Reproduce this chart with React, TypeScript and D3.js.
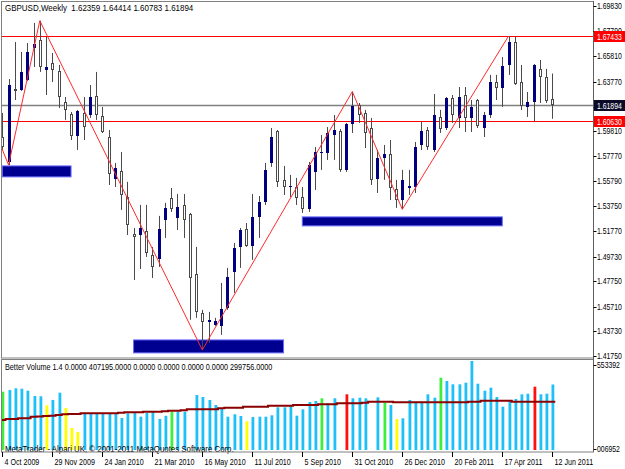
import React, { useEffect } from "react";
import * as d3 from "d3";

// Weekly GBPUSD bars, first bar = week of 4 Oct 2009
const opens = [1.5932,1.5732,1.6317,1.6313,1.6389,1.6646,1.6710,1.6470,1.6526,1.6462,1.6213,1.6117,1.5940,1.6125,1.6109,1.6261,1.6101,1.5932,1.5596,1.5660,1.5451,1.5154,1.5146,1.5178,1.4986,1.4954,1.5267,1.5443,1.5283,1.5387,1.5315,1.4834,1.4521,1.4449,1.4425,1.4417,1.4561,1.4850,1.5050,1.5194,1.5058,1.5291,1.5411,1.5724,1.5980,1.5588,1.5531,1.5531,1.5451,1.5355,1.5652,1.5804,1.5804,1.5948,1.5980,1.5668,1.6037,1.6189,1.6125,1.6004,1.5596,1.5764,1.5796,1.5515,1.5427,1.5523,1.5531,1.5868,1.5988,1.5828,1.6093,1.6004,1.6245,1.6085,1.6269,1.6085,1.6229,1.6004,1.6109,1.6373,1.6325,1.6510,1.6694,1.6373,1.6173,1.6213,1.6478,1.6414,1.62359];
const highs = [1.6125,1.6397,1.6694,1.6614,1.6686,1.6847,1.6865,1.6734,1.6606,1.6510,1.6253,1.6133,1.6149,1.6253,1.6349,1.6454,1.6173,1.5988,1.5724,1.5812,1.5572,1.5202,1.5387,1.5387,1.5050,1.5299,1.5403,1.5523,1.5475,1.5475,1.5323,1.5050,1.4545,1.4529,1.4481,1.4761,1.4882,1.5082,1.5202,1.5242,1.5475,1.5459,1.5724,1.6004,1.5988,1.5700,1.5628,1.5604,1.5531,1.5732,1.5852,1.5948,1.6012,1.6109,1.5996,1.6045,1.6296,1.6205,1.6149,1.6085,1.5828,1.5868,1.5908,1.5588,1.5668,1.5668,1.5892,1.6053,1.6012,1.6277,1.6149,1.6253,1.6269,1.6333,1.6333,1.6229,1.6237,1.6133,1.6430,1.6430,1.6574,1.6742,1.6738,1.6510,1.6293,1.6518,1.6550,1.6478,1.64414];
const lows = [1.5828,1.5707,1.6229,1.6301,1.6381,1.6494,1.6454,1.6269,1.6373,1.6165,1.6069,1.5908,1.5828,1.5908,1.6085,1.6069,1.5964,1.5547,1.5531,1.5347,1.5146,1.4785,1.4873,1.4970,1.4801,1.4890,1.5122,1.5331,1.5186,1.5122,1.4465,1.4481,1.4223,1.4280,1.4417,1.4344,1.4545,1.4681,1.4882,1.5050,1.4946,1.5122,1.5387,1.5692,1.5531,1.5467,1.5451,1.5387,1.5323,1.5331,1.5507,1.5668,1.5748,1.5748,1.5652,1.5652,1.5964,1.6045,1.5844,1.5547,1.5483,1.5588,1.5427,1.5363,1.5352,1.5467,1.5483,1.5828,1.5828,1.5812,1.5964,1.5988,1.6045,1.6004,1.5972,1.5972,1.6004,1.5932,1.6085,1.6229,1.6173,1.6430,1.6349,1.6149,1.6093,1.6053,1.6205,1.6205,1.60783];
const closes = [1.5852,1.6349,1.6301,1.6454,1.6614,1.6678,1.6494,1.6494,1.6470,1.6253,1.6149,1.5940,1.6141,1.6012,1.6253,1.6109,1.5972,1.5636,1.5684,1.5467,1.5227,1.5130,1.5202,1.5002,1.4890,1.5194,1.5363,1.5355,1.5371,1.5267,1.4801,1.4529,1.4449,1.4465,1.4457,1.4553,1.4809,1.5042,1.5186,1.5058,1.5291,1.5411,1.5668,1.5932,1.5572,1.5531,1.5539,1.5443,1.5355,1.5708,1.5812,1.5812,1.5964,1.5988,1.5668,1.6037,1.6181,1.6109,1.5964,1.5588,1.5764,1.5796,1.5523,1.5427,1.5588,1.5539,1.5852,1.5980,1.5852,1.6109,1.5996,1.6245,1.6109,1.6253,1.6085,1.6173,1.6020,1.6109,1.6373,1.6325,1.6502,1.6694,1.6357,1.6181,1.6213,1.6510,1.6414,1.6221,1.61894];

const volumes = [362500,373100,383650,381000,368730,335770,334000,277940,310900,356290,261160,136800,111920,228200,229500,227400,228900,226800,229100,198980,228200,231930,207060,230070,236280,192760,212660,236280,238150,238150,420000,342000,329550,310900,279810,256800,207060,221980,211410,178460,205190,207060,207060,215760,265510,265510,273590,213280,253070,298460,304680,321470,290380,321470,450000,346340,321470,325200,321470,470000,327690,294110,279810,192760,197110,310900,300330,300330,346340,325200,449560,429040,408520,408520,418470,553392,412250,368730,387380,329550,269240,304680,317120,346340,350070,393600,346340,350070,407195];
const volumeTypes = ["g","b","b","b","b","b","b","y","b","b","y","y","y","b","b","b","b","b","b","b","b","b","b","b","b","b","b","g","b","b","w","b","b","b","b","b","b","b","b","y","b","b","b","b","b","b","b","b","b","b","b","g","b","b","w","r","b","b","b","w","b","g","b","y","b","b","b","b","b","b","g","b","b","b","b","b","b","b","b","b","b","b","b","b","b","r","b","b","b"];
const volumeAvg = [186500,192800,192800,197100,197100,207000,209000,211400,213300,217600,222000,223800,223800,228200,228200,228200,228200,228200,228200,231900,234400,234400,234400,238100,238100,238100,240600,244400,244400,246800,253000,253000,253000,253000,253000,259300,263000,263000,263000,269200,269200,269200,269200,275500,275500,275500,275500,279800,279800,279800,279800,284200,284200,284200,290400,290400,290400,290400,294100,300300,300300,300300,300300,296600,296600,296600,296600,296600,296600,296600,296600,296600,296600,296600,296600,300300,300300,306500,306500,306500,306500,306500,299756,299756,299756,299756,299756,299756,299756];

const zigzagIndex = [-1, 1, 6, 32, 56, 64, 81];
const zigzagPrice = [1.5956, 1.5707, 1.6865, 1.4224, 1.6296, 1.5352, 1.6742];

const zoneStart = [0, 21, 48];
const zoneEnd = [11, 45, 80];
const zoneTop = [1.5700, 1.4304, 1.5291];
const zoneBottom = [1.5612, 1.4200, 1.5219];

const redLevels = [1.67433, 1.60630];
const bidPrice = 1.61894;

const priceTicks = [1.6983, 1.6779, 1.6581, 1.6377, 1.6175, 1.5981, 1.5777, 1.5579, 1.5375, 1.5177, 1.4973, 1.4775, 1.4571, 1.4373, 1.4175];
const dateLabels = ["4 Oct 2009","29 Nov 2009","24 Jan 2010","21 Mar 2010","16 May 2010","11 Jul 2010","5 Sep 2010","31 Oct 2010","26 Dec 2010","20 Feb 2011","17 Apr 2011","12 Jun 2011"];
const dateLabelIndex = [0, 8, 16, 24, 32, 40, 48, 56, 64, 72, 80, 88];

const volColor: Record<string, string> = { b: "#1ec0f8", g: "#3ef03e", y: "#ffff00", r: "#ff1010", w: "#ffffff" };

const FONT = "'Liberation Sans', Arial, sans-serif";

function Label(props: { x: number; y: number; sx: number; fill?: string; children: React.ReactNode }) {
  return (
    <text
      transform={`translate(${props.x},${props.y}) scale(${props.sx},1)`}
      fontSize={8.5}
      fill={props.fill || "#000"}
      style={{ whiteSpace: "pre" }}
    >
      {props.children}
    </text>
  );
}

export default function App() {
  useEffect(() => {
    document.body.style.margin = "0";
  }, []);

  const L = 2, R = 593.5, T = 2, MB = 358, VT = 360, VB = 452;
  const x = d3.scaleLinear().domain([0, 88]).range([2.3, 552.3]);
  const y = d3.scaleLinear().domain([1.4175, 1.6983]).range([356, 6]);
  const yv = d3.scaleLinear().domain([0, 553392]).range([450, 361]);

  const zz = zigzagIndex.map((d, k) => [x(d), y(zigzagPrice[k])] as [number, number]);
  const zzPath = d3.line()(zz) || "";

  const avgPts = volumeAvg.map((v, i) => [x(i) - 3, yv(v)] as [number, number]);
  avgPts.push([x(88) + 3, yv(volumeAvg[88])]);
  const avgPath = d3.line().curve(d3.curveStepAfter)(avgPts) || "";

  const fmt = d3.format(".5f");
  const NS = 0.81; // numeric labels

  return (
    <svg width={625} height={469} style={{ position: "absolute", left: 0, top: 0, background: "#fff" }} fontFamily={FONT}>
      <defs>
        <clipPath id="mainClip"><rect x={L} y={T} width={R - L} height={MB - T} /></clipPath>
        <clipPath id="volClip"><rect x={L} y={VT} width={R - L} height={VB - VT} /></clipPath>
      </defs>
      <rect x={0} y={0} width={625} height={469} fill="#fff" />

      {/* main window */}
      <g clipPath="url(#mainClip)">
        {zoneStart.map((s, k) => (
          <rect key={"z" + k} x={x(s)} y={y(zoneTop[k])} width={x(zoneEnd[k]) - x(s)} height={y(zoneBottom[k]) - y(zoneTop[k])} fill="#000090" stroke="#6a6aff" strokeWidth={1} />
        ))}
        {redLevels.map((p, k) => (
          <line key={"rl" + k} x1={L} x2={R} y1={Math.round(y(p)) + 0.5} y2={Math.round(y(p)) + 0.5} stroke="#ff0000" strokeWidth={1} />
        ))}
        <line x1={L} x2={R} y1={Math.round(y(bidPrice)) + 0.5} y2={Math.round(y(bidPrice)) + 0.5} stroke="#808080" strokeWidth={1.5} />
        {opens.map((o, i) => {
          const c = closes[i];
          const x0 = Math.round(x(i));
          const bull = c > o;
          const top = Math.round(y(Math.max(o, c)));
          const bot = Math.round(y(Math.min(o, c)));
          const h = Math.max(1, bot - top);
          return (
            <g key={"c" + i}>
              <line x1={x0 + 0.5} x2={x0 + 0.5} y1={y(highs[i])} y2={y(lows[i])} stroke="#4a4a4a" strokeWidth={1} />
              {bull ? (
                <rect x={x0 - 1} y={top} width={3} height={h} fill="#000080" />
              ) : (
                <rect x={x0 - 0.5} y={top + 0.5} width={2} height={Math.max(0.5, h - 1)} fill="#fff" stroke="#4a4a4a" strokeWidth={1} />
              )}
            </g>
          );
        })}
        <path d={zzPath} fill="none" stroke="#ff2a2a" strokeWidth={1} />
      </g>
      <Label x={5} y={11} sx={0.94}>{"GBPUSD,Weekly  1.62359 1.64414 1.60783 1.61894"}</Label>

      {/* volume window */}
      <g clipPath="url(#volClip)">
        {volumes.map((v, i) => {
          const x0 = Math.round(x(i));
          return <rect key={"v" + i} x={x0 - 0.5} y={yv(v)} width={2.8} height={yv(0) - yv(v)} fill={volColor[volumeTypes[i]]} />;
        })}
        <path d={avgPath} fill="none" stroke="#8b0000" strokeWidth={2} />
      </g>
      <Label x={5} y={370} sx={0.855}>Better Volume 1.4 0.0000 407195.0000 0.0000 0.0000 0.0000 0.0000 299756.0000</Label>
      <Label x={5} y={452} sx={0.925}>MetaTrader - Alpari UK, © 2001-2011 MetaQuotes Software Corp.</Label>

      {/* frames */}
      <rect x={1.5} y={1.5} width={R - 1.5} height={MB - 1.5} fill="none" stroke="#808080" strokeWidth={1} />
      <rect x={1.5} y={VT - 0.5} width={R - 1.5} height={VB - VT + 0.5} fill="none" stroke="#808080" strokeWidth={1} />
      <line x1={R} x2={R} y1={1} y2={VB} stroke="#606060" strokeWidth={1} />

      {/* price axis */}
      {priceTicks.map((p, k) => (
        <g key={"pt" + k}>
          <line x1={R} x2={R + 3} y1={Math.round(y(p)) + 0.5} y2={Math.round(y(p)) + 0.5} stroke="#000" />
          <Label x={597} y={y(p) + 3} sx={NS}>{fmt(p)}</Label>
        </g>
      ))}
      {redLevels.map((p, k) => (
        <g key={"rb" + k}>
          <rect x={R + 0.5} y={Math.round(y(p)) - 5} width={31} height={11} fill="#ff0000" />
          <Label x={597} y={Math.round(y(p)) + 3.5} sx={NS} fill="#fff">{fmt(p)}</Label>
        </g>
      ))}
      <rect x={R + 0.5} y={Math.round(y(bidPrice)) - 5} width={31} height={11} fill="#0b0b28" />
      <Label x={597} y={Math.round(y(bidPrice)) + 3.5} sx={NS} fill="#fff">{fmt(bidPrice)}</Label>

      {/* volume axis */}
      <line x1={R} x2={R + 3} y1={365.5} y2={365.5} stroke="#000" />
      <Label x={597} y={368} sx={NS}>553392</Label>
      <line x1={R} x2={R + 3} y1={449.5} y2={449.5} stroke="#000" />
      <Label x={597} y={452} sx={NS}>006952</Label>

      {/* time axis */}
      {dateLabels.map((lab, k) => {
        const x0 = Math.round(x(dateLabelIndex[k])) + 0.5;
        return (
          <g key={"d" + k}>
            <line x1={x0} x2={x0} y1={VB} y2={VB + 5} stroke="#000" />
            <Label x={x0 + 2} y={465} sx={0.84}>{lab}</Label>
          </g>
        );
      })}
    </svg>
  );
}
